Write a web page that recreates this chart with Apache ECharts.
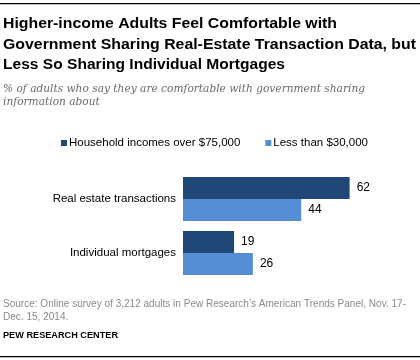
<!DOCTYPE html>
<html>
<head>
<meta charset="utf-8">
<script src="https://cdn.jsdelivr.net/npm/echarts@6/dist/echarts.min.js"></script>
<style>
html,body{margin:0;padding:0;background:#fff;}
#chart{width:420px;height:360px;}
</style>
</head>
<body>
<div id="chart"></div>
<script>
var categories = ['Real estate transactions', 'Individual mortgages'];
var seriesNames = ['Household incomes over $75,000', 'Less than $30,000'];
var highIncome = [62, 19];
var lowIncome = [44, 26];

var titleLines = ['Higher-income Adults Feel Comfortable with', 'Government Sharing Real-Estate Transaction Data, but', 'Less So Sharing Individual Mortgages'];
var subtitleLines = ['% of adults who say they are comfortable with government sharing', 'information about'];
var sourceLines = ['Source: Online survey of 3,212 adults in Pew Research\u2019s American Trends Panel, Nov. 17-', 'Dec. 15, 2014.'];
var brandText = 'PEW RESEARCH CENTER';

var measureCtx = document.createElement('canvas').getContext('2d');
function measure(text, font) { measureCtx.font = font; return measureCtx.measureText(text).width; }

function textEl(text, x, y, targetW, opt) {
  var font = (opt.italic ? 'italic ' : '') + (opt.bold ? 'bold ' : '') + opt.size + 'px ' + opt.family;
  var w = measure(text, font);
  var sx = targetW ? targetW / w : 1;
  return {
    type: 'text', x: x, y: y, scaleX: sx, silent: true,
    style: {
      text: text, fill: opt.color, fontSize: opt.size, fontFamily: opt.family,
      fontWeight: opt.bold ? 'bold' : 'normal', fontStyle: opt.italic ? 'italic' : 'normal',
      verticalAlign: 'middle', align: 'left'
    }
  };
}

var titleOpt = {size: 15.5, family: 'Liberation Sans', bold: true, color: '#000'};
var subOpt = {size: 11, family: 'DejaVu Serif', italic: true, color: '#6a6a6a'};
var srcOpt = {size: 10.5, family: 'Liberation Sans', color: '#8a8a8a'};
var brandOpt = {size: 9.5, family: 'Liberation Sans', bold: true, color: '#000'};

var subScale = 362 / measure(subtitleLines[0], 'italic 11px DejaVu Serif');
var srcScale = 403 / measure(sourceLines[0], '10.5px Liberation Sans');

function scaled(text, x, y, scale, opt) {
  var el = textEl(text, x, y, null, opt);
  el.scaleX = scale;
  return el;
}

var graphics = [
  {type: 'rect', shape: {x: 0, y: 3, width: 420, height: 1.3}, style: {fill: '#000'}, silent: true},
  {type: 'rect', shape: {x: 0, y: 356, width: 420, height: 1.3}, style: {fill: '#000'}, silent: true},
  textEl(titleLines[0], 3, 24, 334, titleOpt),
  textEl(titleLines[1], 3, 44.5, 413, titleOpt),
  textEl(titleLines[2], 3, 65, 282, titleOpt),
  scaled(subtitleLines[0], 3, 89, subScale, subOpt),
  scaled(subtitleLines[1], 3, 101.7, subScale, subOpt),
  scaled(sourceLines[0], 3, 304.5, srcScale, srcOpt),
  scaled(sourceLines[1], 3, 317.2, srcScale, srcOpt),
  textEl(brandText, 3, 335.5, 115, brandOpt)
];

var chart = echarts.init(document.getElementById('chart'), null, {renderer: 'canvas'});
chart.setOption({
  animation: false,
  backgroundColor: '#fff',
  graphic: graphics,
  legend: {
    left: 61, top: 137, padding: 0, itemWidth: 6, itemHeight: 6, itemGap: 25,
    icon: 'rect',
    textStyle: {fontFamily: 'Liberation Sans', fontSize: 11.5, color: '#000', padding: [0, 0, 0, -3]},
    data: seriesNames
  },
  grid: {left: 183, top: 172, width: 215, height: 108, containLabel: false},
  xAxis: {type: 'value', min: 0, max: 80, show: false},
  yAxis: {
    type: 'category', data: categories, inverse: true,
    axisLine: {show: false}, axisTick: {show: false},
    axisLabel: {margin: 7, fontFamily: 'Liberation Sans', fontSize: 11.5, color: '#000'}
  },
  series: [
    {name: seriesNames[0], type: 'bar', data: highIncome, barWidth: 22, barGap: '0%',
     itemStyle: {color: '#1f4878'},
     label: {show: true, position: 'right', distance: 7, fontFamily: 'Liberation Sans', fontSize: 12, color: '#000'}},
    {name: seriesNames[1], type: 'bar', data: lowIncome, barWidth: 22, barGap: '0%',
     itemStyle: {color: '#558ed5'},
     label: {show: true, position: 'right', distance: 7, fontFamily: 'Liberation Sans', fontSize: 12, color: '#000'}}
  ]
});
</script>
</body>
</html>
